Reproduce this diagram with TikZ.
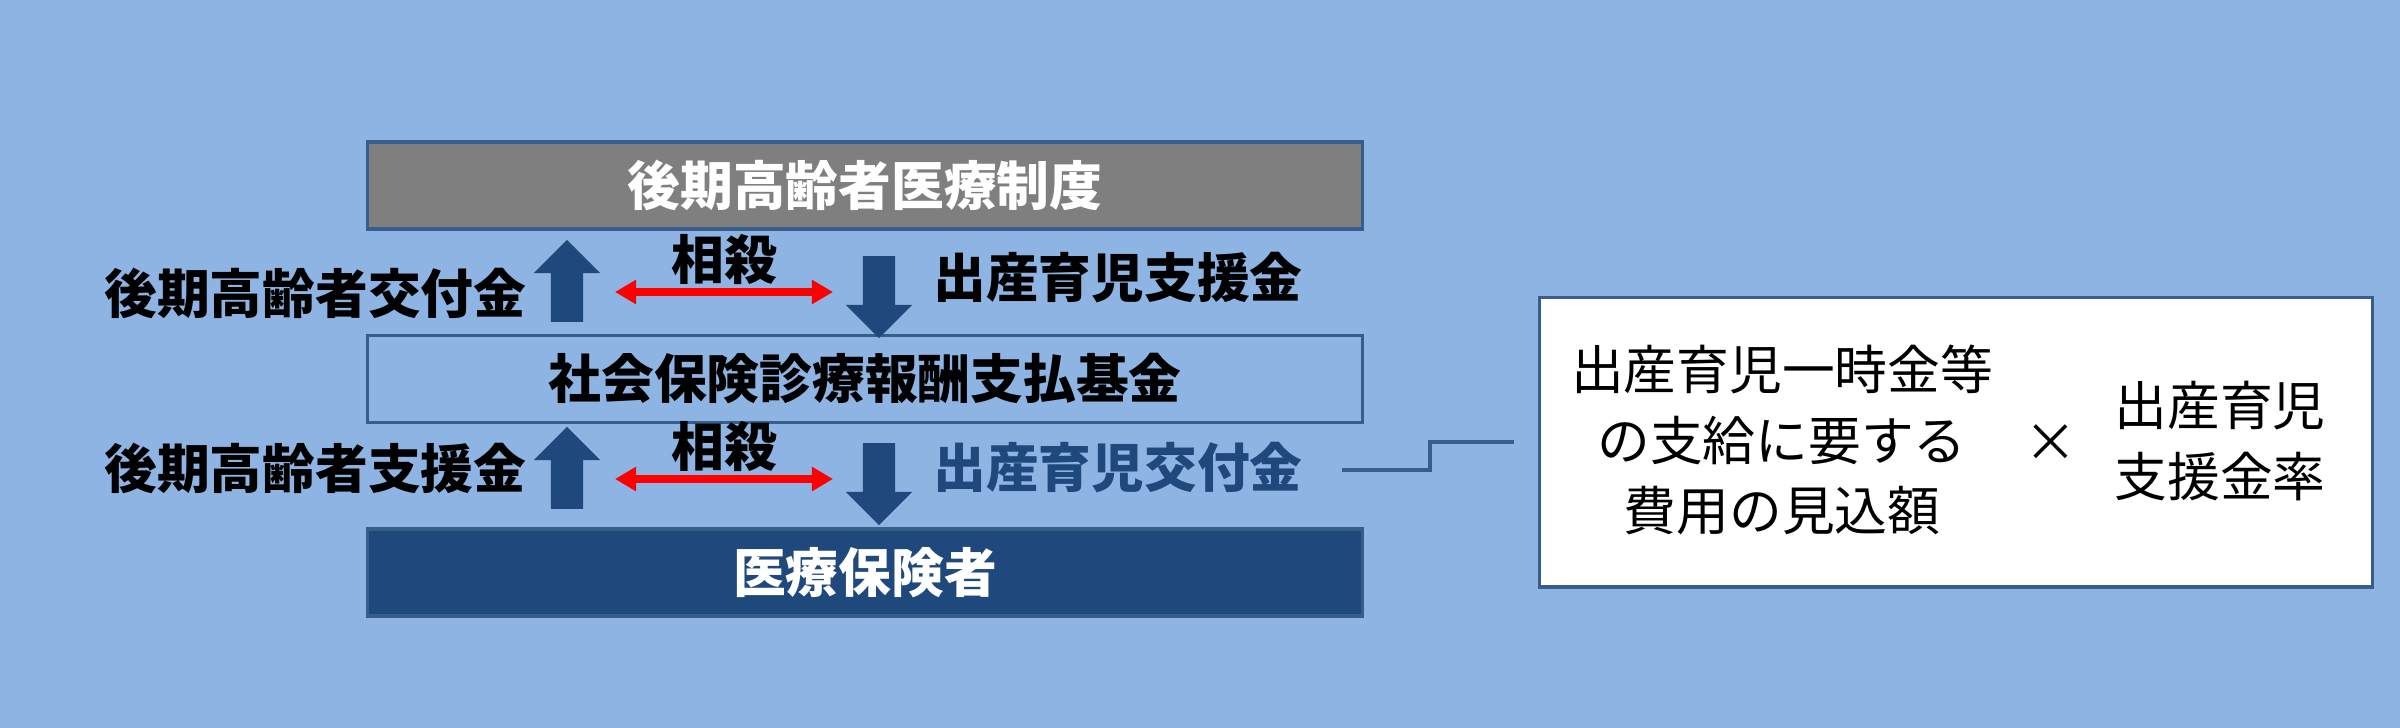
\documentclass[tikz,border=0pt]{standalone}
\usepackage{fontspec}
\usepackage{tikz}
\usetikzlibrary{arrows.meta}
\usetikzlibrary{shapes.arrows}
\newfontfamily\jpfont{Noto Sans CJK JP}
\definecolor{mbg}{HTML}{8EB4E3}
\definecolor{mnavy}{HTML}{1F497D}
\definecolor{mframe}{HTML}{385D8A}
\definecolor{mgray}{HTML}{7F7F7F}
\tikzset{jp/.style = {font = \jpfont\fontsize{15}{20}\selectfont, inner sep = 0}}
\tikzset{jpb/.style = {font = \jpfont\bfseries\fontsize{15}{20}\selectfont, inner sep = 0}}
\tikzset{band/.style = {jpb, draw = mframe, line width = 0.9pt, minimum width = 9.95cm, minimum height = 0.87cm}}
\tikzset{blockarrow/.style = {single arrow, fill = mnavy, draw = none, minimum height = 0.82cm, minimum width = 0.65cm, single arrow head extend = 0.17cm, inner sep = 0.155cm}}

\begin{document}
\begin{tikzpicture}[x = 0.01cm, y = -0.01cm]
      \fill [mbg] (0, 0) rectangle (2400, 728);

      \node [band, fill = mgray, text = white] (kouki) at (865, 185.5) {後期高齢者医療制度};
      \node [band] (kikin) at (865, 379) {社会保険診療報酬支払基金};
      \node [band, fill = mnavy, text = white] (hoken) at (865, 572.5) {医療保険者};

      \foreach \i/\y in {1/289, 2/476} {
        \node [blockarrow, rotate = 90] (up\i) at (567, \y) {};
        \node [blockarrow, rotate = -90] (down\i) at (879, \y) {};
        \coordinate (sl\i) at (615, \y + 3);
        \coordinate (sr\i) at (833, \y + 3);
        \draw [red, line width = 2pt, {Triangle[length = 0.21cm, width = 0.23cm]}-{Triangle[length = 0.21cm, width = 0.23cm]}] (sl\i) -- (sr\i);
        \node [jpb] (sousai\i) at (724, \y - 30) {相殺};
      }

      \node [jpb, anchor = east] (koufu) at (527, 293) {後期高齢者交付金};
      \node [jpb, anchor = east] (shien) at (527, 468) {後期高齢者支援金};
      \node [jpb] (shussanshien) at (1118, 278) {出産育児支援金};
      \node [jpb, text = mnavy] (shussankoufu) at (1118, 468) {出産育児交付金};

      \node [draw = mframe, fill = white, line width = 0.9pt, minimum width = 8.32cm, minimum height = 2.89cm] (mikomi) at (1956, 442.5) {};
      \node [jp, align = center] (hiyou) at (1782, 440) {出産育児一時金等\\の支給に要する\\費用の見込額};
      \node [jp] (kakeru) at (2051, 443) {×};
      \node [jp, align = center] (ritsu) at (2220, 441) {出産育児\\支援金率};

      \coordinate (k1) at (1342, 470);
      \coordinate (k2) at (1430, 470);
      \coordinate (k3) at (1430, 442);
      \coordinate (k4) at (1514, 442);
      \draw [mframe, line width = 0.9pt] (k1) -- (k2) -- (k3) -- (k4);
    \end{tikzpicture}
\end{document}
